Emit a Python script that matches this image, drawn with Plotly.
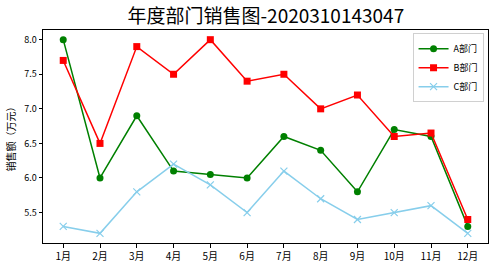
import plotly.graph_objects as go

months = ["1月", "2月", "3月", "4月", "5月", "6月", "7月", "8月", "9月", "10月", "11月", "12月"]
dept_a = [8.0, 6.0, 6.9, 6.1, 6.05, 6.0, 6.6, 6.4, 5.8, 6.7, 6.6, 5.3]
dept_b = [7.7, 6.5, 7.9, 7.5, 8.0, 7.4, 7.5, 7.0, 7.2, 6.6, 6.65, 5.4]
dept_c = [5.3, 5.2, 5.8, 6.2, 5.9, 5.5, 6.1, 5.7, 5.4, 5.5, 5.6, 5.2]
yticks = [5.5, 6.0, 6.5, 7.0, 7.5, 8.0]

font = "Noto Sans CJK SC, DejaVu Sans, sans-serif"

fig = go.Figure()
fig.add_trace(go.Scatter(x=months, y=dept_a, name="A部门", mode="lines+markers",
                         line=dict(color="green", width=1.5),
                         marker=dict(symbol="circle", size=7, color="green")))
fig.add_trace(go.Scatter(x=months, y=dept_b, name="B部门", mode="lines+markers",
                         line=dict(color="red", width=1.5),
                         marker=dict(symbol="square", size=7, color="red")))
fig.add_trace(go.Scatter(x=months, y=dept_c, name="C部门", mode="lines+markers",
                         line=dict(color="skyblue", width=1.5),
                         marker=dict(symbol="x-thin", size=7, color="skyblue",
                                     line=dict(color="skyblue", width=1.2))))

fig.update_layout(
    width=496, height=270,
    margin=dict(l=43, r=7, t=30, b=23),
    paper_bgcolor="white", plot_bgcolor="white",
    font=dict(family=font, size=10, color="black"),
    title=dict(text="年度部门销售图-2020310143047", x=0.536, xanchor="center",
               y=0.965, yanchor="top", font=dict(size=19, family=font, color="black")),
    showlegend=True,
    legend=dict(x=0.99, xanchor="right", y=0.985, yanchor="top",
                bgcolor="rgba(255,255,255,0.8)", bordercolor="#d0d0d0", borderwidth=1,
                font=dict(size=9, family=font), itemwidth=30, tracegroupgap=0),
    xaxis=dict(type="category", range=[-0.55, 11.55], showline=True, mirror=True,
               linecolor="black", linewidth=1, ticks="outside", ticklen=3.5,
               tickcolor="black", showgrid=False, zeroline=False,
               tickfont=dict(size=10)),
    yaxis=dict(range=[5.06, 8.14], tickvals=yticks,
               ticktext=[f"{v:.1f}" for v in yticks], showline=True, mirror=True,
               linecolor="black", linewidth=1, ticks="outside", ticklen=3.5,
               tickcolor="black", showgrid=False, zeroline=False,
               title=dict(text="销售额（万元）", font=dict(size=10), standoff=6),
               tickfont=dict(size=9)),
)

fig.write_html("out.html")
